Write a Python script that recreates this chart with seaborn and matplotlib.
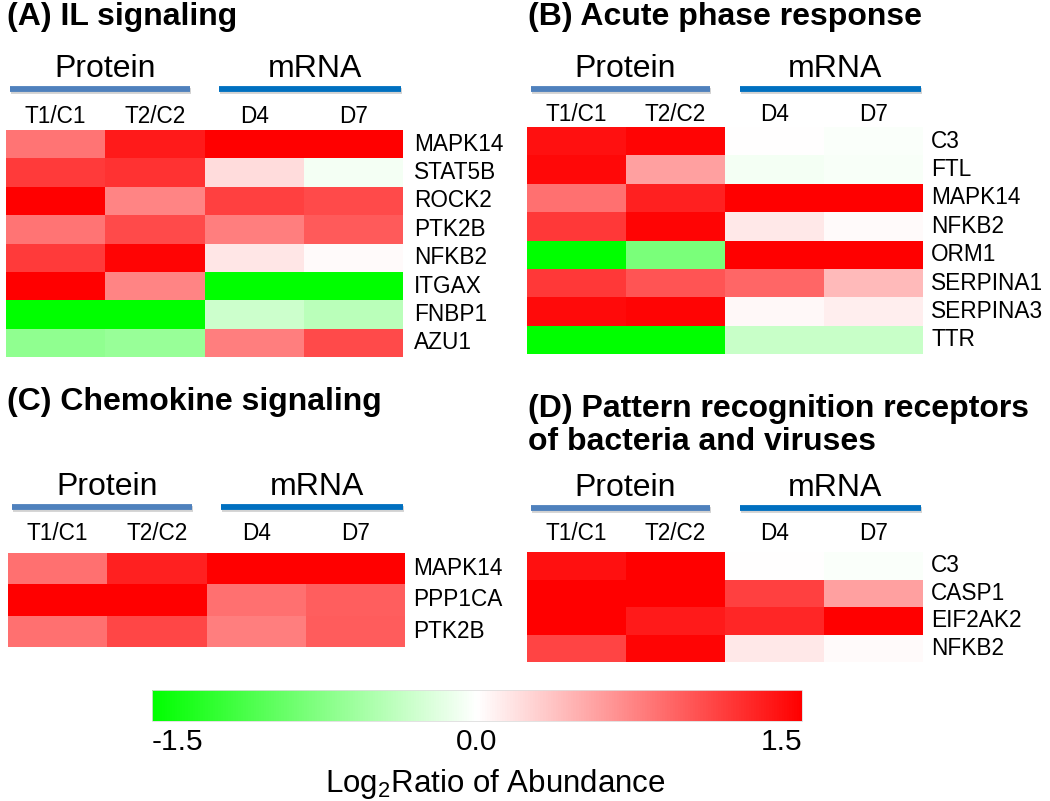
import numpy as np
import pandas as pd
import seaborn as sns
import matplotlib
matplotlib.use("Agg")
import matplotlib.pyplot as plt
from matplotlib.colors import LinearSegmentedColormap
from matplotlib import transforms
import matplotlib.patheffects as pe

# ---------------- data ----------------
columns = ["T1/C1", "T2/C2", "D4", "D7"]

genes_a = ["MAPK14", "STAT5B", "ROCK2", "PTK2B", "NFKB2", "ITGAX", "FNBP1", "AZU1"]
vals_a = [
    [0.81, 1.34, 1.50, 1.50],
    [1.15, 1.20, 0.20, -0.06],
    [1.50, 0.72, 1.12, 1.06],
    [0.81, 1.06, 0.75, 0.97],
    [1.15, 1.47, 0.15, 0.03],
    [1.50, 0.72, -1.50, -1.50],
    [-1.50, -1.50, -0.30, -0.40],
    [-0.65, -0.60, 0.75, 1.06],
]

genes_b = ["C3", "FTL", "MAPK14", "NFKB2", "ORM1", "SERPINA1", "SERPINA3", "TTR"]
vals_b = [
    [1.40, 1.47, 0.00, -0.03],
    [1.45, 0.56, -0.06, -0.04],
    [0.84, 1.31, 1.50, 1.50],
    [1.17, 1.47, 0.13, 0.03],
    [-1.50, -0.78, 1.50, 1.50],
    [1.17, 1.00, 0.90, 0.40],
    [1.44, 1.47, 0.04, 0.10],
    [-1.50, -1.50, -0.32, -0.32],
]

genes_c = ["MAPK14", "PPP1CA", "PTK2B"]
vals_c = [
    [0.84, 1.31, 1.50, 1.50],
    [1.50, 1.50, 0.84, 0.94],
    [0.84, 1.08, 0.75, 0.96],
]

genes_d = ["C3", "CASP1", "EIF2AK2", "NFKB2"]
vals_d = [
    [1.40, 1.50, 0.00, -0.03],
    [1.50, 1.50, 1.12, 0.56],
    [1.50, 1.34, 1.27, 1.50],
    [1.09, 1.47, 0.13, 0.03],
]

titles = ["(A) IL signaling", "(B) Acute phase response",
          "(C) Chemokine signaling",
          "(D) Pattern recognition receptors\nof bacteria and viruses"]
group_labels = ["Protein", "mRNA"]
cbar_ticks = [-1.5, 0.0, 1.5]
cbar_ticklabels = ["-1.5", "0.0", "1.5"]
cbar_label = "Log$_\\mathregular{2}$Ratio of Abundance"

# ---------------- style ----------------
sns.set_theme(style="white")
plt.rcParams["font.family"] = ["Liberation Sans", "DejaVu Sans"]
plt.rcParams["text.color"] = "black"
plt.rcParams["xtick.color"] = "black"
plt.rcParams["ytick.color"] = "black"

W, H = 1050, 801
fig = plt.figure(figsize=(W / 100, H / 100), dpi=100)
cmap = LinearSegmentedColormap.from_list("gwr", ["#00FF00", "#FFFFFF", "#FF0000"])


def fx(x):
    return x / W


def fy(y):
    return 1 - y / H


panels = [
    dict(genes=genes_a, vals=vals_a, box=(6, 130, 403, 357), title_xy=(7, 25),
         text_y=77, bar_y=89, xpad=1.5, ypad=8),
    dict(genes=genes_b, vals=vals_b, box=(527, 127, 923, 354), title_xy=(528, 25),
         text_y=77, bar_y=89, xpad=0.5, ypad=6),
    dict(genes=genes_c, vals=vals_c, box=(8, 553, 405, 647), title_xy=(7, 410),
         text_y=495, bar_y=507, xpad=5.5, ypad=6),
    dict(genes=genes_d, vals=vals_d, box=(527, 552, 923, 662), title_xy=(528, 450),
         text_y=496, bar_y=508, xpad=5, ypad=6),
]

bar_colors = ["#4F81BD", "#0070C0"]
bar_spans = [(0.04, 1.85), (2.15, 3.98)]

mappable = None
for i, p in enumerate(panels):
    l, t, r, b = p["box"]
    ax = fig.add_axes([fx(l), fy(b), fx(r) - fx(l), fy(t) - fy(b)])
    df = pd.DataFrame(p["vals"], index=p["genes"], columns=columns)
    sns.heatmap(df, ax=ax, cmap=cmap, vmin=-1.5, vmax=1.5, cbar=False,
                linewidths=0)
    mappable = ax.collections[0]
    ax.xaxis.tick_top()
    ax.yaxis.tick_right()
    ax.tick_params(axis="x", length=0, pad=p["xpad"], labelsize=16.3, colors="black")
    ax.tick_params(axis="y", length=0, pad=p["ypad"], labelsize=16.3, colors="black")
    plt.setp(ax.get_yticklabels(), rotation=0, va="center")
    plt.setp(ax.get_xticklabels(), rotation=0)
    ax.set_xlabel("")
    ax.set_ylabel("")

    # title
    tx, ty = p["title_xy"]
    fig.text(fx(tx), fy(ty), titles[i], fontsize=23, fontweight="bold",
             ha="left", va="baseline", linespacing=1.15, color="black")

    # group bars and labels
    trans = transforms.blended_transform_factory(ax.transData, fig.transFigure)
    for k, (x0, x1) in enumerate(bar_spans):
        ax.plot([x0, x1], [fy(p["bar_y"])] * 2, transform=trans, clip_on=False,
                color=bar_colors[k], lw=4.2, solid_capstyle="butt",
                path_effects=[pe.SimpleLineShadow(offset=(0.8, -1.6),
                                                  shadow_color="gray", alpha=0.35),
                              pe.Normal()])
        ax.text((x0 + x1) / 2 + 0.05, fy(p["text_y"]), group_labels[k],
                transform=trans, ha="center", va="baseline", fontsize=23,
                color="black")

# colorbar
cax = fig.add_axes([fx(152), fy(721), fx(802) - fx(152), (721 - 690) / H])
cb = fig.colorbar(mappable, cax=cax, orientation="horizontal")
cb.set_ticks(cbar_ticks)
cb.set_ticklabels(cbar_ticklabels)
cax.tick_params(length=0, pad=5, labelsize=21.5, colors="black")
labs = cax.get_xticklabels()
labs[0].set_ha("left")
labs[-1].set_ha("right")
cb.outline.set_edgecolor("#dddddd")
cb.outline.set_linewidth(0.6)
fig.text(fx(495), fy(792), cbar_label, ha="center", va="baseline", fontsize=22.5,
         color="black")

fig.savefig("out.png", dpi=100)
